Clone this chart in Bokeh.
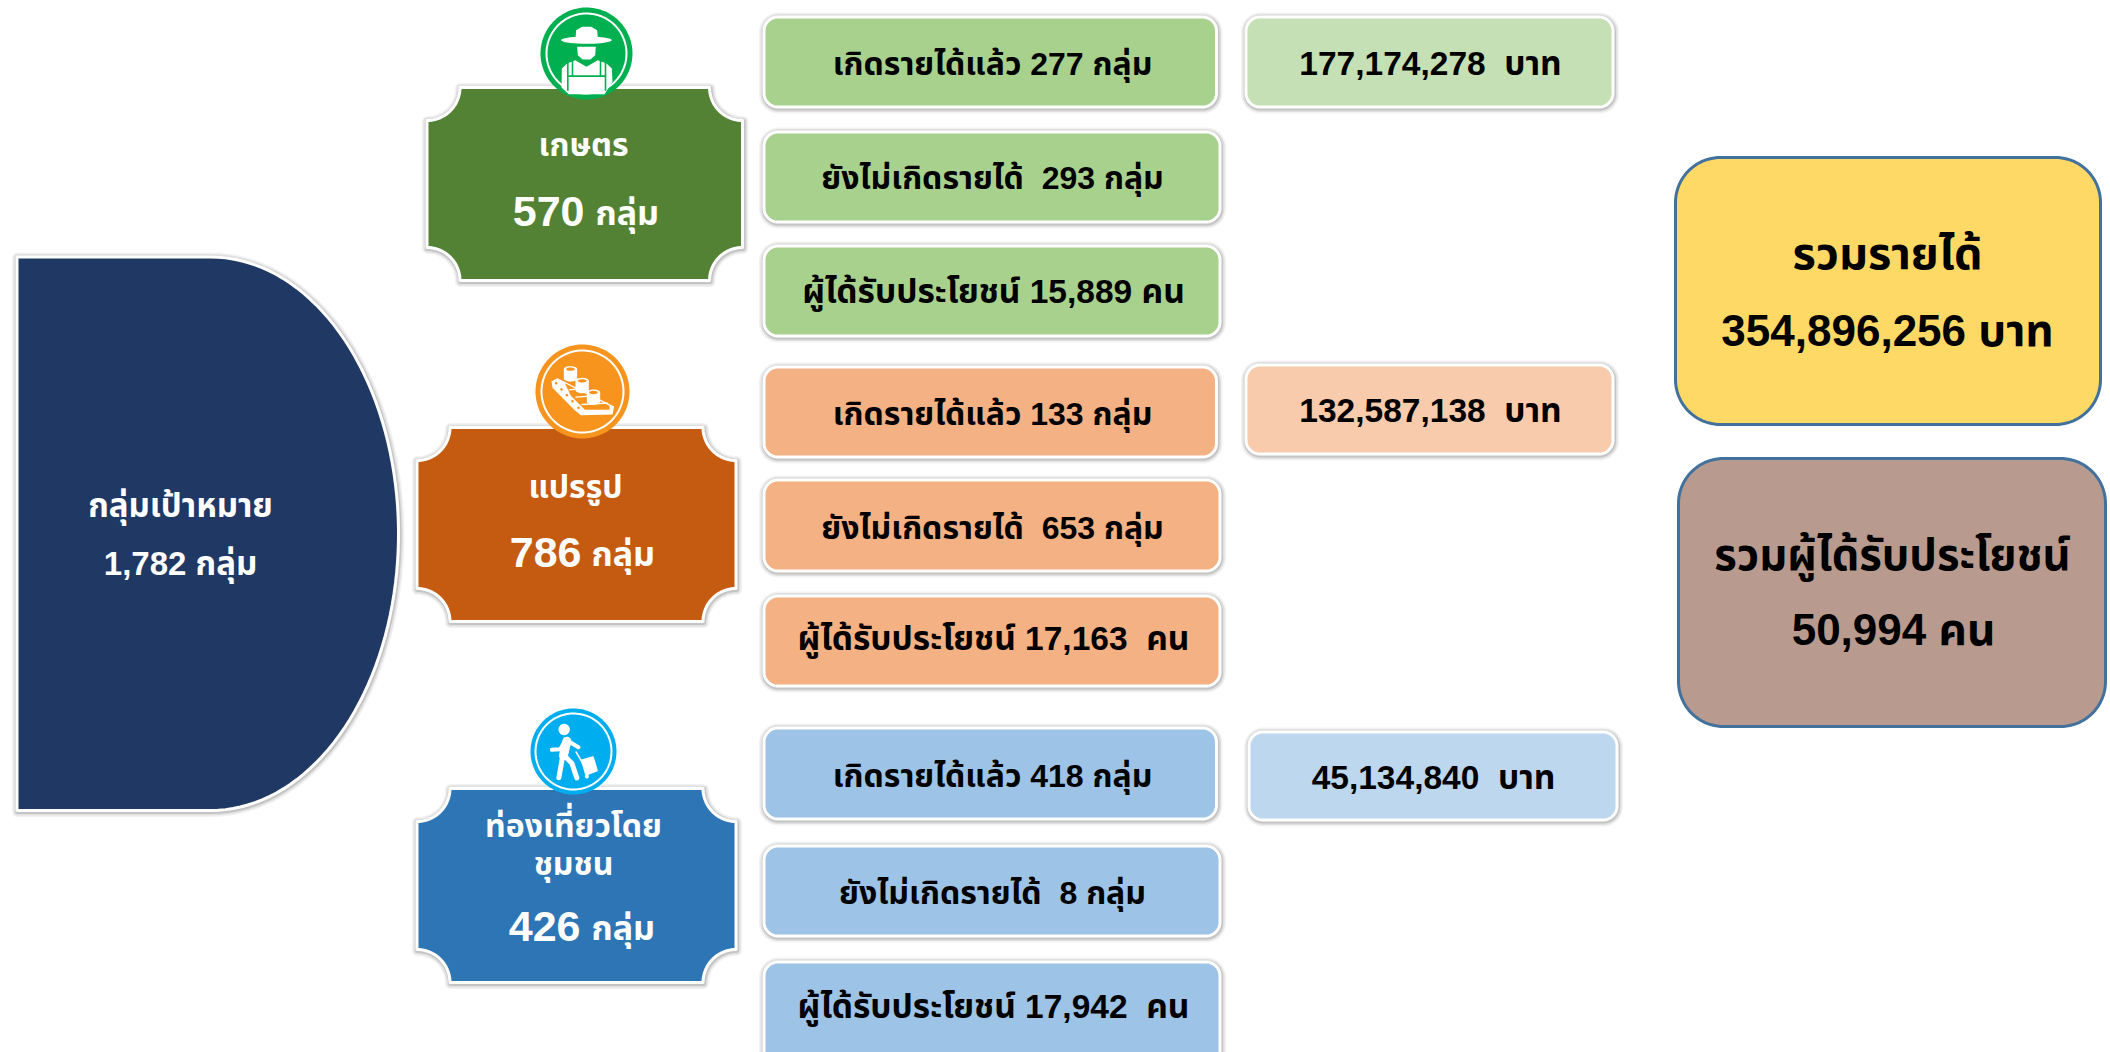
import numpy as np
from bokeh.plotting import figure
from bokeh.models import Range1d
from bokeh.core.properties import value
from bokeh.embed import file_html
from bokeh.resources import INLINE

# ---- data ----
target_label = "กลุ่มเป้าหมาย"
target_groups = 1782
sectors = ["เกษตร", "แปรรูป", "ท่องเที่ยวโดย\nชุมชน"]
sector_groups = [570, 786, 426]
earning_groups = [277, 133, 418]
not_earning_groups = [293, 653, 8]
beneficiaries = [15889, 17163, 17942]
income_baht = [177174278, 132587138, 45134840]
total_income = 354896256
total_beneficiaries = 50994
label_earning = "เกิดรายได้แล้ว"
label_not_earning = "ยังไม่เกิดรายได้"
label_benef = "ผู้ได้รับประโยชน์"
label_total_income = "รวมรายได้"
label_total_benef = "รวมผู้ได้รับประโยชน์"
unit_group = "กลุ่ม"
unit_person = "คน"
unit_baht = "บาท"

# ---- layout and styles ----
FONT = "Liberation Sans, Noto Sans Thai, Noto Sans"
NB = "\u00a0"
W, H = 2110, 1052
p = figure(width=W, height=H, x_range=Range1d(0, 2110), y_range=Range1d(1052, 0),
           output_backend="svg", toolbar_location=None, min_border=0)
p.axis.visible = False
p.grid.visible = False
p.outline_line_color = None
p.background_fill_color = "white"


def arc(cx, cy, r, a0, a1, n=24, ry=None):
    t = np.radians(np.linspace(a0, a1, n))
    return cx + r * np.cos(t), cy + (ry if ry else r) * np.sin(t)


def round_rect(l, t, r, b, rad):
    parts = [arc(r - rad, t + rad, rad, -90, 0), arc(r - rad, b - rad, rad, 0, 90),
             arc(l + rad, b - rad, rad, 90, 180), arc(l + rad, t + rad, rad, 180, 270)]
    return np.concatenate([q[0] for q in parts]), np.concatenate([q[1] for q in parts])


def plaque(l, t, r, b, rad):
    parts = [arc(r, t, rad, 180, 90), arc(r, b, rad, -90, -180),
             arc(l, b, rad, 0, -90), arc(l, t, rad, 90, 0)]
    return np.concatenate([q[0] for q in parts]), np.concatenate([q[1] for q in parts])


def d_shape(l, t, r, b, start):
    x, y = arc(start, (t + b) / 2, r - start, -90, 90, n=80, ry=(b - t) / 2)
    return np.concatenate([[l], x, [l]]), np.concatenate([[t], y, [b]])


def shadow(x, y):
    for lw, a in [(11, 0.05), (8, 0.07), (5, 0.12)]:
        p.patch(x + 0.5, y + 1, fill_alpha=0, line_color="black", line_alpha=a, line_width=lw,
                line_join="round")


def shape(x, y, fill, shade=True, line="white", lw=3):
    if shade:
        shadow(x, y)
    p.patch(x, y, fill_color=fill, line_color=line, line_width=lw, line_join="round")


def label(x, y, s, size, color="black", style="normal", align="center"):
    p.text([x], [y], text=[s], text_font=value(FONT), text_font_size=f"{size}px",
           text_font_style=style, text_color=color, text_align=align, text_baseline="middle")


def fmt(n):
    return f"{n:,}"


def circle_icon(cx, cy, r, ring, fill):
    t = np.radians(np.linspace(0, 360, 120))
    p.patch(cx + r * np.cos(t), cy + r * np.sin(t), fill_color=fill, line_color=None)
    p.line(cx + ring * np.cos(t), cy + ring * np.sin(t), line_color="white", line_width=2)


def ink(cx, cy, pts, zx, zy, **kw):
    """polygon given in zoomed-reference offsets (3x) around the icon centre"""
    a = np.array(pts, dtype=float)
    p.patch(cx + (a[:, 0] - zx) / 3, cy + (a[:, 1] - zy) / 3, **kw)


def stroke(cx, cy, pts, zx, zy, lw, color="white"):
    a = np.array(pts, dtype=float)
    p.line(cx + (a[:, 0] - zx) / 3, cy + (a[:, 1] - zy) / 3, line_color=color, line_width=lw,
           line_cap="round", line_join="round")


def ell(x, y, rx, ry, a=0, n=40):
    t = np.radians(np.linspace(0, 360, n))
    ca, sa = np.cos(np.radians(a)), np.sin(np.radians(a))
    ex, ey = rx * np.cos(t), ry * np.sin(t)
    return list(zip(x + ex * ca - ey * sa, y + ex * sa + ey * ca))


def farmer(cx, cy, fill):
    zx, zy = 558, 160
    W_ = dict(fill_color="white", line_color=None)
    ink(cx, cy, ell(558, 120, 76, 11), zx, zy, **W_)
    ink(cx, cy, [(525, 115), (527, 90), (545, 80), (572, 80), (590, 90), (592, 115)], zx, zy, **W_)
    ink(cx, cy, [(530, 140), (586, 140), (584, 165), (570, 178), (546, 178), (532, 165)], zx, zy, **W_)
    ink(cx, cy, [(483, 262), (484, 205), (500, 190), (524, 180), (558, 200), (592, 180), (618, 190),
                 (634, 205), (636, 245), (612, 282), (505, 282)], zx, zy, **W_)
    stroke(cx, cy, [(502, 190), (502, 270)], zx, zy, 1.6, fill)
    stroke(cx, cy, [(516, 184), (516, 228)], zx, zy, 1.6, fill)
    stroke(cx, cy, [(615, 190), (615, 270)], zx, zy, 1.6, fill)
    stroke(cx, cy, [(600, 184), (600, 228)], zx, zy, 1.6, fill)
    stroke(cx, cy, [(502, 228), (615, 228)], zx, zy, 1.6, fill)


def conveyor(cx, cy, fill):
    zx, zy = 545, 183
    # white belt body with an orange deck
    ink(cx, cy, [(452, 152), (470, 143), (640, 228), (635, 252), (540, 254), (520, 238), (455, 172)],
        zx, zy, fill_color="white", line_color=None)
    ink(cx, cy, [(492, 158), (626, 226), (626, 238), (552, 238), (510, 196)], zx, zy,
        fill_color=fill, line_color=None)
    # slats across the deck
    stroke(cx, cy, [(505, 178), (560, 172)], zx, zy, 1.3)
    stroke(cx, cy, [(525, 200), (592, 195)], zx, zy, 1.3)
    stroke(cx, cy, [(543, 222), (620, 218)], zx, zy, 1.3)
    # holes on the side strip
    for dx, dy in [(466, 158), (482, 177), (498, 194), (515, 212), (533, 232)]:
        ink(cx, cy, ell(dx, dy, 4, 4, n=12), zx, zy, fill_color=fill, line_color=None)
    # three cylinders
    for dx, dy in [(509, 130), (544, 165), (578, 200)]:
        t = np.radians(np.linspace(180, 0, 20))
        base = list(zip(dx + 20 * np.cos(t), dy + 14 + 9 * np.sin(t)))
        ink(cx, cy, [(dx - 20, dy - 14)] + base + [(dx + 20, dy - 14)], zx, zy,
            fill_color="white", line_color=None)
        ink(cx, cy, ell(dx, dy - 14, 20, 9), zx, zy, fill_color="white", line_color=None)
        ink(cx, cy, ell(dx, dy - 14, 13, 5), zx, zy, fill_color=fill, line_color=None)


def traveller(cx, cy, fill):
    zx, zy = 520, 183
    ink(cx, cy, ell(492, 117, 17, 17), zx, zy, fill_color="white", line_color=None)
    stroke(cx, cy, [(500, 152), (490, 195)], zx, zy, 9)
    stroke(cx, cy, [(455, 178), (480, 176), (497, 148), (535, 170)], zx, zy, 4)
    stroke(cx, cy, [(487, 200), (476, 262)], zx, zy, 5)
    stroke(cx, cy, [(492, 195), (515, 218), (530, 262)], zx, zy, 5)
    stroke(cx, cy, [(528, 185), (552, 225)], zx, zy, 1.6)
    ink(cx, cy, [(545, 210), (578, 200), (590, 240), (558, 252)], zx, zy,
        fill_color="white", line_color="white", line_width=2, line_join="round")
    ink(cx, cy, ell(560, 258, 6, 6, n=14), zx, zy, fill_color="white", line_color=None)


# ---- left block ----
x, y = d_shape(16.5, 256.5, 398, 810, 210)
shape(x, y, "#1F3864")
label(180, 505, target_label, 33, "white", style="bold")
label(180, 563, f"{fmt(target_groups)} {unit_group}", 33, "white", style="bold")

# ---- sector blocks ----
plaques = [(426.5, 87, 742, 280), (416.5, 427, 735.5, 621), (416.5, 788, 735.5, 982)]
plaque_fill = ["#548235", "#C55A11", "#2E75B6"]
icon_geo = [(586, 53, 46, 40), (582, 391, 47, 41), (573, 751, 43, 38)]
icon_fill = ["#00B050", "#F7941E", "#00AEEF"]
icon_fn = [farmer, conveyor, traveller]
title_pos = [[(583, 144)], [(575, 486)], [(573, 825), (573, 863)]]
count_pos = [(584, 597, 211), (581, 593, 552), (580, 593, 926)]

for i in range(3):
    l, t, r, b = plaques[i]
    px, py = plaque(l, t, r, b, 33)
    shape(px, py, plaque_fill[i])
    cx, cy, rad, ring = icon_geo[i]
    circle_icon(cx, cy, rad, ring, icon_fill[i])
    icon_fn[i](cx, cy, icon_fill[i])
    for (tx, ty), s in zip(title_pos[i], sectors[i].split("\n")):
        label(tx, ty, s, 32, "white", style="bold")
    nx, ux, ny = count_pos[i]
    label(nx, ny, str(sector_groups[i]), 43, "white", style="bold", align="right")
    label(ux - 2, ny + 1, unit_group, 34, "white", style="bold", align="left")

# ---- detail boxes ----
row_y = [[(15, 108), (130, 223), (244, 337)],
         [(365, 458), (478, 572), (594, 687)],
         [(726, 820), (844, 937), (960, 1070)]]
row_right = [1217.5, 1221, 1221]
text_y = [[63, 177, 291], [413, 527, 638], [775, 892, 1006]]
text_size = [32, 32, 33.5]
row_fill = ["#A9D18E", "#F4B183", "#9DC3E6"]
benef_gap = [" ", " " + NB, " " + NB]
inc_box = [(1244, 15, 1614, 108), (1244, 363, 1614, 455), (1247, 730, 1618, 821)]
inc_fill = ["#C5E0B4", "#F8CBAD", "#BDD7EE"]
inc_pos = [(1430, 63), (1430, 410), (1433, 777)]

for i in range(3):
    texts = [f"{label_earning} {earning_groups[i]} {unit_group}",
             f"{label_not_earning} {NB}{not_earning_groups[i]} {unit_group}",
             f"{label_benef} {fmt(beneficiaries[i])}{benef_gap[i]}{unit_person}"]
    for j in range(3):
        t, b = row_y[i][j]
        rx, ry = round_rect(763.5, t + 1.5, row_right[j] - 1.5, b - 1.5, 14)
        shape(rx, ry, row_fill[i])
        label(993 if j == 2 else 992, text_y[i][j], texts[j], text_size[j], style="bold")
    l, t, r, b = inc_box[i]
    rx, ry = round_rect(l + 1.5, t + 1.5, r - 1.5, b - 1.5, 14)
    shape(rx, ry, inc_fill[i])
    label(inc_pos[i][0], inc_pos[i][1], f"{fmt(income_baht[i])} {NB}{unit_baht}", 33.5, style="bold")

# ---- totals ----
rx, ry = round_rect(1675, 157, 2100, 424, 45)
shape(rx, ry, "#FFD966", shade=False, line="#41719C", lw=3)
label(1887, 253, label_total_income, 45, style="bold")
label(1887, 330, f"{fmt(total_income)} {unit_baht}", 44, style="bold")
rx, ry = round_rect(1678, 458, 2105, 726, 45)
shape(rx, ry, "#B89B8E", shade=False, line="#41719C", lw=3)
label(1892, 554, label_total_benef, 43.5, style="bold")
label(1893, 629, f"{fmt(total_beneficiaries)} {unit_person}", 44, style="bold")

open("out.html", "w").write(file_html(p, INLINE))
